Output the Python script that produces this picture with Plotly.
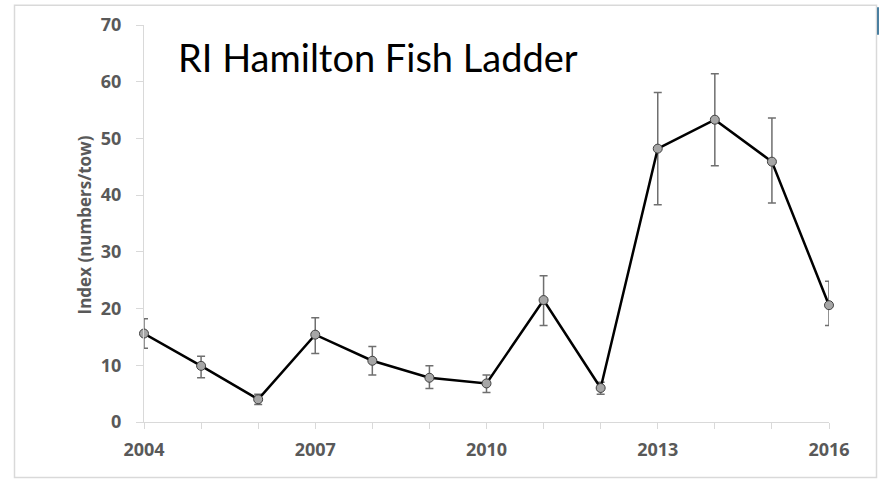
import plotly.graph_objects as go

years = [2004, 2005, 2006, 2007, 2008, 2009, 2010, 2011, 2012, 2013, 2014, 2015, 2016]
index_vals = [15.6, 9.9, 4.0, 15.4, 10.8, 7.8, 6.8, 21.5, 6.0, 48.2, 53.3, 45.9, 20.6]
err_upper = [18.2, 11.6, 4.9, 18.4, 13.3, 9.9, 8.3, 25.8, 7.0, 58.1, 61.4, 53.6, 24.8]
err_lower = [13.0, 7.8, 3.1, 12.1, 8.3, 5.9, 5.2, 17.0, 4.9, 38.3, 45.2, 38.6, 17.0]
x_ticks = [2004, 2007, 2010, 2013, 2016]
y_ticks = [0, 10, 20, 30, 40, 50, 60, 70]
title_text = "RI Hamilton Fish Ladder"
y_title = "Index (numbers/tow)"

plus = [u - v for u, v in zip(err_upper, index_vals)]
minus = [v - l for v, l in zip(index_vals, err_lower)]

W, H = 879, 483
L, R, T, B = 144, 50, 18, 61

fig = go.Figure()
fig.add_trace(go.Scatter(
    x=years, y=index_vals, mode="lines+markers",
    line=dict(color="#000000", width=2.5),
    marker=dict(size=9, color="#a6a6a6", line=dict(color="#404040", width=1)),
    error_y=dict(type="data", symmetric=False, array=plus, arrayminus=minus,
                 color="#6f6f6f", thickness=1.5, width=4),
    cliponaxis=False, showlegend=False,
))

tickfont = dict(family="Open Sans", size=18, color="#595959", weight="bold")
fig.update_layout(
    width=W, height=H,
    margin=dict(l=L, r=R, t=T, b=B, pad=0),
    paper_bgcolor="white", plot_bgcolor="white",
    xaxis=dict(range=[2004, 2016], tickvals=x_ticks, ticktext=[str(t) for t in x_ticks],
               showgrid=False, zeroline=False, showline=True, linecolor="#d9d9d9", linewidth=1,
               ticks="outside", ticklen=6, tickcolor="#d9d9d9",
               minor=dict(ticks="outside", ticklen=6, tickcolor="#d9d9d9", dtick=1, tick0=2004),
               tickfont=tickfont, ticklabelstandoff=5),
    yaxis=dict(range=[0, 70], tickvals=y_ticks, showgrid=False, zeroline=False,
               showline=True, linecolor="#d9d9d9", linewidth=1,
               ticks="outside", ticklen=7, tickcolor="#d9d9d9",
               tickfont=tickfont, ticklabelstandoff=11),
    annotations=[
        dict(text=title_text, xref="paper", yref="paper",
             x=(176 - L) / (W - L - R), y=1 - (51 - T) / (H - T - B),
             xanchor="left", yanchor="middle", showarrow=False,
             font=dict(family="Lato", size=38, color="#000000")),
        dict(text=y_title, xref="paper", yref="paper",
             x=(84 - L) / (W - L - R), y=1 - (222 - T) / (H - T - B),
             xanchor="center", yanchor="middle", showarrow=False, textangle=-90,
             font=dict(family="Open Sans", size=17, color="#595959", weight="bold")),
    ],
    shapes=[
        dict(type="rect", xref="paper", yref="paper",
             x0=(14.5 - L) / (W - L - R), x1=(876.5 - L) / (W - L - R),
             y0=1 - (478.5 - T) / (H - T - B), y1=1 - (-2 - T) / (H - T - B),
             line=dict(color="#d9d9d9", width=1.5), fillcolor="rgba(0,0,0,0)", layer="below"),
        dict(type="line", xref="paper", yref="paper",
             x0=(878 - L) / (W - L - R), x1=(878 - L) / (W - L - R),
             y0=1 - (28 - T) / (H - T - B), y1=1 - (0 - T) / (H - T - B),
             line=dict(color="#4a7fa0", width=2)),
    ],
)

fig.write_html("out.html")
